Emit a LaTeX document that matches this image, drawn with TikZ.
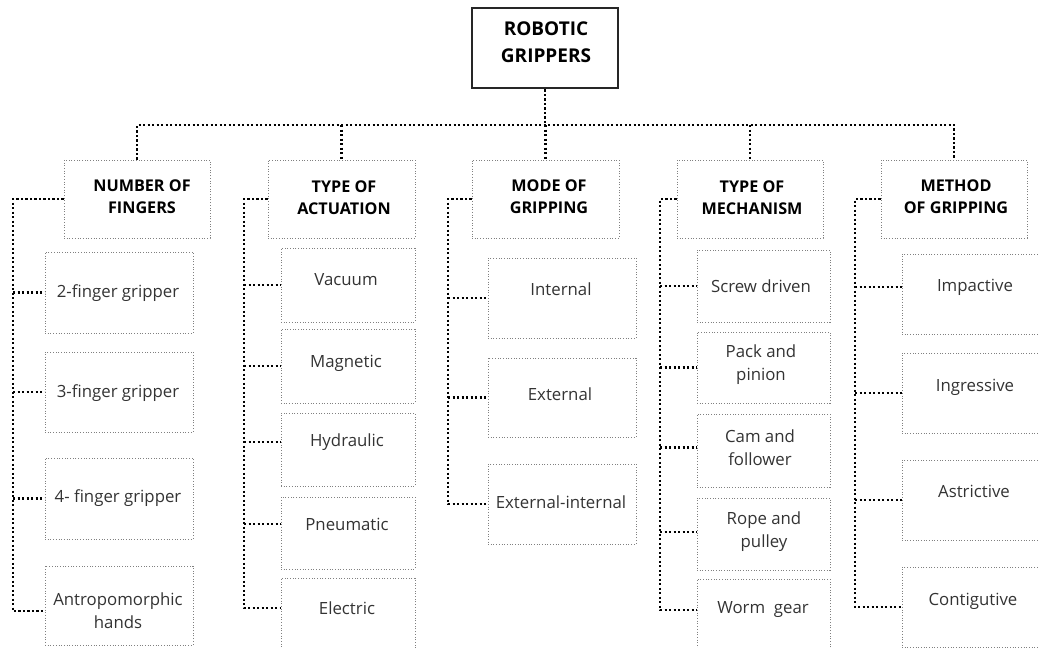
\documentclass[tikz,border=0pt]{standalone}
\usepackage{fontspec}
\setmainfont{Open Sans}
\begin{document}
\begin{tikzpicture}[x=1pt,y=-1pt,
  box/.style={draw=black!50, line width=1pt, dash pattern=on 1pt off 1.7pt, inner sep=0pt},
  rootbox/.style={draw=black!85, line width=2.6pt, inner sep=0pt},
  conn/.style={draw=black, line width=2.5pt, dash pattern=on 2.2pt off 2.3pt},
  lt/.style={text=black!80, font=\fontsize{16.8}{23}\selectfont, align=center, inner sep=0pt},
  ht/.style={text=black, font=\fontsize{16.2}{22}\selectfont\bfseries, align=center, inner sep=0pt},
  rt/.style={text=black, font=\fontsize{19}{27}\selectfont\bfseries, align=center, inner sep=0pt}]
\useasboundingbox (0,0) rectangle (1039,648);

% root
\node[rootbox, minimum width=146pt, minimum height=80pt] (root) at (545,48) {};
\node[rt] (troot) at (546,42) {ROBOTIC\\GRIPPERS};

% headers
\node[box, minimum width=146pt, minimum height=78pt] (h1) at (137,199) {};
\node[ht] (th1) at (142,197) {NUMBER OF\\FINGERS};
\node[box, minimum width=147pt, minimum height=78pt] (h2) at (341.5,199) {};
\node[ht] (th2) at (344,198) {TYPE OF\\ACTUATION};
\node[box, minimum width=147pt, minimum height=78pt] (h3) at (545.5,199) {};
\node[ht] (th3) at (549,197) {MODE OF\\GRIPPING};
\node[box, minimum width=146pt, minimum height=78pt] (h4) at (750,199) {};
\node[ht] (th4) at (752,198) {TYPE OF\\MECHANISM};
\node[box, minimum width=146pt, minimum height=78pt] (h5) at (954,199) {};
\node[ht] (th5) at (956,197) {METHOD\\OF GRIPPING};

% column 1
\node[box, minimum width=148pt, minimum height=81pt] (a1) at (119,292.5) {};
\node[lt] (ta1) at (118,293) {2-finger gripper};
\node[box, minimum width=148pt, minimum height=80pt] (a2) at (119,392) {};
\node[lt] (ta2) at (118,393) {3-finger gripper};
\node[box, minimum width=148pt, minimum height=81pt] (a3) at (119,498.5) {};
\node[lt] (ta3) at (118,498) {4- finger gripper};
\node[box, minimum width=148pt, minimum height=79pt] (a4) at (119,605.5) {};
\node[lt] (ta4) at (118,611) {Antropomorphic\\hands};

% column 2
\node[box, minimum width=134pt, minimum height=74pt] (b1) at (348,285) {};
\node[lt] (tb1) at (346,280) {Vacuum};
\node[box, minimum width=134pt, minimum height=74pt] (b2) at (348,366) {};
\node[lt] (tb2) at (346,363) {Magnetic};
\node[box, minimum width=134pt, minimum height=73pt] (b3) at (348,449.5) {};
\node[lt] (tb3) at (347,442) {Hydraulic};
\node[box, minimum width=134pt, minimum height=72pt] (b4) at (348,533) {};
\node[lt] (tb4) at (347,524) {Pneumatic};
\node[box, minimum width=134pt, minimum height=74pt] (b5) at (348,615) {};
\node[lt] (tb5) at (347,608) {Electric};

% column 3
\node[box, minimum width=148pt, minimum height=80pt] (c1) at (562,298) {};
\node[lt] (tc1) at (561,289) {Internal};
\node[box, minimum width=148pt, minimum height=79pt] (c2) at (562,397.5) {};
\node[lt] (tc2) at (560,394) {External};
\node[box, minimum width=148pt, minimum height=80pt] (c3) at (562,504) {};
\node[lt] (tc3) at (561,502) {External-internal};

% column 4
\node[box, minimum width=133pt, minimum height=72pt] (d1) at (763.5,286) {};
\node[lt] (td1) at (761,286) {Screw driven};
\node[box, minimum width=133pt, minimum height=71pt] (d2) at (763.5,367.5) {};
\node[lt] (td2) at (761,364.5) {Pack and\\pinion};
\node[box, minimum width=133pt, minimum height=73pt] (d3) at (763.5,450.5) {};
\node[lt] (td3) at (760,447.5) {Cam and\\follower};
\node[box, minimum width=133pt, minimum height=72pt] (d4) at (763.5,534) {};
\node[lt] (td4) at (764,532) {Rope and\\pulley};
\node[box, minimum width=133pt, minimum height=73pt] (d5) at (763.5,615.5) {};
\node[lt] (td5) at (763,610) {Worm\ \ gear};

% column 5
\node[box, minimum width=148pt, minimum height=80pt] (e1) at (976,294) {};
\node[lt] (te1) at (975,287) {Impactive};
\node[box, minimum width=148pt, minimum height=80pt] (e2) at (976,393) {};
\node[lt] (te2) at (975,387) {Ingressive};
\node[box, minimum width=148pt, minimum height=80pt] (e3) at (976,500) {};
\node[lt] (te3) at (974,491) {Astrictive};
\node[box, minimum width=148pt, minimum height=80pt] (e4) at (976,607) {};
\node[lt] (te4) at (973,601) {Contigutive};

% trunk and bus
\coordinate (bus) at (545,125);
\draw[conn] (root.south) -- (root.south |- bus);
\draw[conn] (h1.north) |- (h5.north |- bus) -- (h5.north);
\draw[conn] (h2.north |- bus) -- (h2.north);
\draw[conn] (h3.north |- bus) -- (h3.north);
\draw[conn] (h4.north |- bus) -- (h4.north);

% verticals
\coordinate (v1) at (13,0);
\coordinate (v2) at (244,0);
\coordinate (v3) at (448,0);
\coordinate (v4) at (660,0);
\coordinate (v5) at (855,0);

\draw[conn] (h1.west) -| (v1 |- ta4) -- (a4.west |- ta4);
\draw[conn] (v1 |- a1.west) -- (a1.west);
\draw[conn] (v1 |- a2.west) -- (a2.west);
\draw[conn] (v1 |- a3.west) -- (a3.west);

\draw[conn] (h2.west) -| (v2 |- tb5) -- (b5.west |- tb5);
\draw[conn] (v2 |- b1.west) -- (b1.west);
\draw[conn] (v2 |- b2.west) -- (b2.west);
\draw[conn] (v2 |- tb3) -- (b3.west |- tb3);
\draw[conn] (v2 |- tb4) -- (b4.west |- tb4);

\draw[conn] (h3.west) -| (v3 |- c3.west) -- (c3.west);
\draw[conn] (v3 |- c1.west) -- (c1.west);
\draw[conn] (v3 |- c2.west) -- (c2.west);

\draw[conn] (h4.west) -| (v4 |- td5) -- (d5.west |- td5);
\draw[conn] (v4 |- d1.west) -- (d1.west);
\draw[conn] (v4 |- d2.west) -- (d2.west);
\draw[conn] (v4 |- td3) -- (d3.west |- td3);
\draw[conn] (v4 |- td4) -- (d4.west |- td4);

\draw[conn] (h5.west) -| (v5 |- e4.west) -- (e4.west);
\draw[conn] (v5 |- te1) -- (e1.west |- te1);
\draw[conn] (v5 |- e2.west) -- (e2.west);
\draw[conn] (v5 |- e3.west) -- (e3.west);
\end{tikzpicture}
\end{document}
